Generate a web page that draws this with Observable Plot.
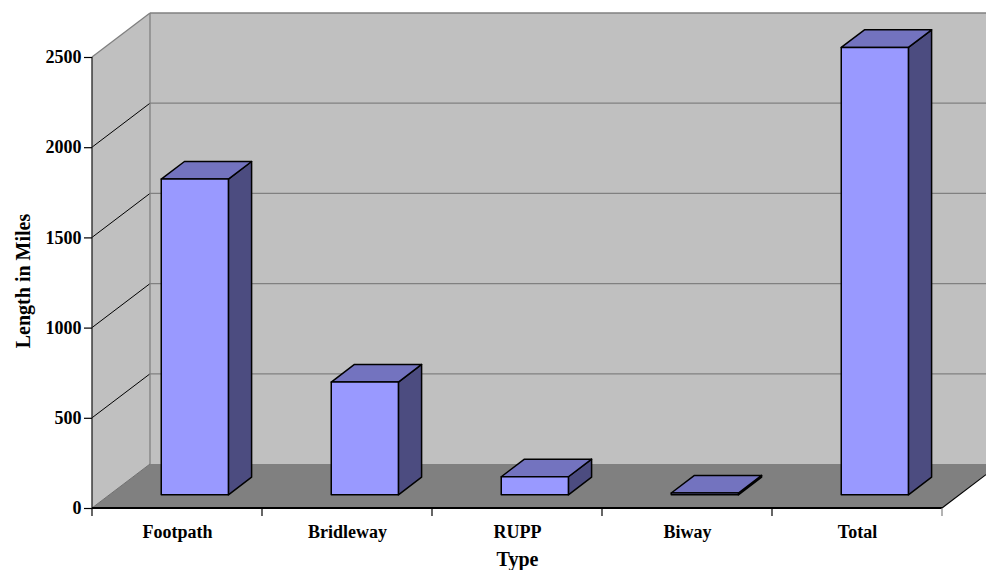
<!DOCTYPE html>
<html><head><meta charset="utf-8">
<script src="https://cdn.jsdelivr.net/npm/d3@7"></script>
<script src="https://cdn.jsdelivr.net/npm/@observablehq/plot@0.6"></script>
<style>html,body{margin:0;padding:0;background:#fff;overflow:hidden}</style>
</head><body><div id="chart"></div>
<script>
const categories = ["Footpath", "Bridleway", "RUPP", "Biway", "Total"];
const lengths = [1750, 625, 100, 10, 2480];
const yTicks = [0, 500, 1000, 1500, 2000, 2500];
const xTitle = "Type";
const yTitle = "Length in Miles";

const data = categories.map((type, i) => ({type, miles: lengths[i]}));

const FONT = "'Liberation Serif', 'Times New Roman', serif";
const DX = 58, DY = -44;          // 3D depth projection (pixels)
const F0 = 0.3, F1 = 0.7;         // bar depth range (fraction of depth)
const IN0 = 0.305, IN1 = 0.7;     // bar extent within band

function poly(g, pts, fill, stroke, sw) {
  g.append("polygon")
    .attr("points", pts.map(p => p.join(",")).join(" "))
    .attr("fill", fill)
    .attr("stroke", stroke || "none")
    .attr("stroke-width", sw || 0)
    .attr("stroke-linejoin", "round");
}
function line(g, a, b, stroke, sw) {
  g.append("line").attr("x1", a[0]).attr("y1", a[1]).attr("x2", b[0]).attr("y2", b[1])
    .attr("stroke", stroke).attr("stroke-width", sw);
}

function walls(index, scales, values, dims) {
  const g = d3.create("svg:g");
  const W = dims.width;
  const x0 = dims.marginLeft, x1 = dims.width - dims.marginRight;
  const yb = scales.y(0), yt = scales.y(yTicks[yTicks.length - 1]);
  const yCut = yb + DY * (W - x1) / DX;
  // back wall
  poly(g, [[x0 + DX, yt + DY], [W, yt + DY], [W, yb + DY], [x0 + DX, yb + DY]], "#c0c0c0");
  // side wall
  poly(g, [[x0, yt], [x0 + DX, yt + DY], [x0 + DX, yb + DY], [x0, yb]], "#c0c0c0");
  // floor
  poly(g, [[x0, yb], [x0 + DX, yb + DY], [W, yb + DY], [W, yCut], [x1, yb]], "#808080");
  // gridlines
  for (const t of yTicks) {
    const y = scales.y(t);
    if (t > 0 && t < yTicks[yTicks.length - 1]) {
      line(g, [x0 + DX, y + DY], [W, y + DY], "#808080", 1.3);
      line(g, [x0, y], [x0 + DX, y + DY], "#000", 1);
    }
  }
  // wall edges
  line(g, [x0 + DX, yt + DY], [W, yt + DY], "#808080", 1.3);
  line(g, [x0, yt], [x0 + DX, yt + DY], "#808080", 1.3);
  line(g, [x0 + DX, yt + DY], [x0 + DX, yb + DY], "#808080", 1.3);
  line(g, [x0, yb], [x0 + DX, yb + DY], "#707070", 1);
  line(g, [x1, yb], [W, yCut], "#000", 1.2);
  return g.node();
}

function axesLines(index, scales, values, dims) {
  const g = d3.create("svg:g");
  const x0 = dims.marginLeft, x1 = dims.width - dims.marginRight;
  const yb = scales.y(0), yt = scales.y(yTicks[yTicks.length - 1]);
  const bw = scales.x(categories[1]) - scales.x(categories[0]);
  line(g, [x0, yt], [x0, yb], "#222", 1.3);
  line(g, [x0, yb], [x1, yb], "#000", 2);
  for (let i = 0; i <= categories.length; i++) {
    const x = scales.x(categories[0]) + i * bw;
    line(g, [x, yb], [x, yb + 8], i === categories.length ? "#808080" : "#000", 1.2);
  }
  return g.node();
}

function bars3d(index, scales, values, dims) {
  const g = d3.create("svg:g");
  const bw = scales.x(categories[1]) - scales.x(categories[0]);
  for (const d of data) {
    const bx = scales.x(d.type);
    const xl = bx + IN0 * bw + F0 * DX, xr = bx + IN1 * bw + F0 * DX;
    const yTop = scales.y(d.miles) + F0 * DY, yBot = scales.y(0) + F0 * DY;
    const ddx = (F1 - F0) * DX, ddy = (F1 - F0) * DY;
    // side
    poly(g, [[xr, yTop], [xr + ddx, yTop + ddy], [xr + ddx, yBot + ddy], [xr, yBot]], "#4c4c80", "#000", 1.5);
    // top
    poly(g, [[xl, yTop], [xl + ddx, yTop + ddy], [xr + ddx, yTop + ddy], [xr, yTop]], "#7373bf", "#000", 1.5);
    // front
    poly(g, [[xl, yTop], [xr, yTop], [xr, yBot], [xl, yBot]], "#9999ff", "#000", 1.5);
  }
  return g.node();
}

const chart = Plot.plot({
  width: 986,
  height: 570,
  marginLeft: 92,
  marginRight: 44,
  marginTop: 57,
  marginBottom: 62,
  style: {fontFamily: FONT, background: "#fff", overflow: "hidden"},
  x: {type: "band", domain: categories, padding: 0, axis: null},
  y: {domain: [0, 2500], axis: null},
  marks: [
    walls,
    bars3d,
    axesLines,
    Plot.axisY({ticks: yTicks, tickFormat: d => String(d), tickSize: 8, tickPadding: 3, fontSize: 18, fontWeight: "bold", fontFamily: FONT, label: null, stroke: "#000", strokeWidth: 1.2}),
    Plot.text(categories, {x: d => d, frameAnchor: "bottom", lineAnchor: "top", dy: 16.5, fontSize: 18, fontWeight: "bold", fontFamily: FONT, fill: "#000"}),
    Plot.text([xTitle], {frameAnchor: "bottom", lineAnchor: "top", dy: 43, fontSize: 20, fontWeight: "bold", fontFamily: FONT, fill: "#000"}),
    Plot.text([yTitle], {frameAnchor: "left", textAnchor: "middle", rotate: -90, dx: -69, dy: -2, fontSize: 20, fontWeight: "bold", fontFamily: FONT, fill: "#000"})
  ]
});
document.getElementById("chart").appendChild(chart);
</script>
</body></html>
